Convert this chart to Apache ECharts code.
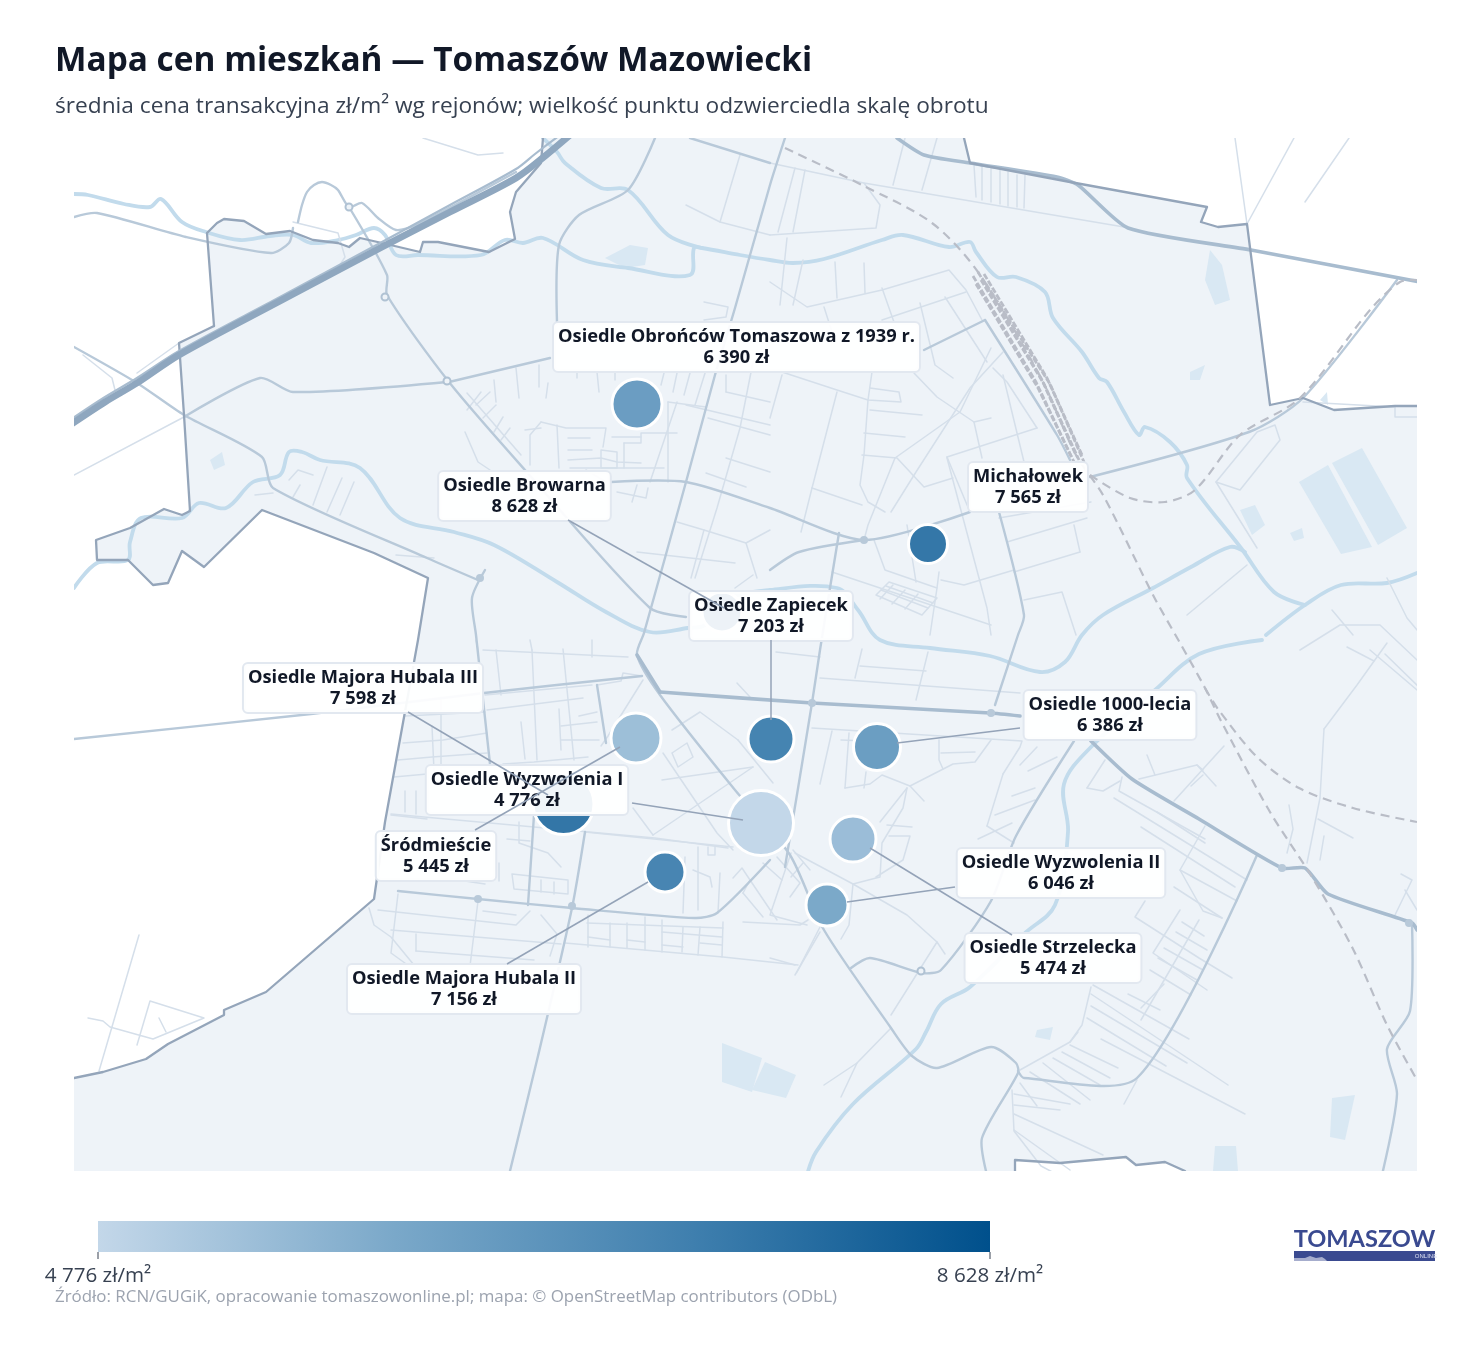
<!DOCTYPE html>
<html><head><meta charset="utf-8">
<style>html,body{margin:0;padding:0;background:#fff}#c{width:1481px;height:1352px}</style>
<script src="https://cdn.jsdelivr.net/npm/echarts@6/dist/echarts.min.js"></script>
</head><body><div id="c"></div>
<script>
const FONT='"Open Sans","Noto Sans",sans-serif';
const names=['Osiedle Obrońców Tomaszowa z 1939 r.','Osiedle Browarna','Michałowek','Osiedle Zapiecek','Osiedle Majora Hubala III','Osiedle Wyzwolenia I','Śródmieście','Osiedle Majora Hubala II','Osiedle 1000-lecia','Osiedle Wyzwolenia II','Osiedle Strzelecka'];
const prices=[6390,8628,7565,7203,7598,4776,5445,7156,6386,6046,5474];
const pointX=[637,722,928,771,563.5,761,636,665,877,827,853];
const pointY=[404,612,544,739,804,823,738,872,747,905,839];
const pointSize=[50,40,39,46,61,65,50,40,47,42,46];
const labelX=[736.5,524.5,1028,771,363,527,436,464,1110,1061,1053];
const labelY=[347,496,487,616,688,790,856,989,715,873,958];
const leaders=[[568,520,724,608],[771,640,771,720],[408,712,548,795],[632,803,743,820],[475,830,620,747],[507,964,648,882],[1020,728,897,743],[955,887,847,902],[1012,935,870,848]];
const colorStops=['#c3d7e9','#7aa8c9','#3f7fae','#00508c'];
const land=[207,233,217,223,224,219,244,221,266,234,290,231,313,240,338,243,349,247,360,238,382,243,420,252,423,242,438,242,489,252,515,239,510,212,516,192,541,163,543,138,964,138,970,163,1070,182,1207,207,1201,222,1218,227,1247,224,1270,405,1303,398,1334,410,1395,406,1417,406,1417,1171,1185,1171,1165,1162,1136,1165,1126,1157,1060,1163,1015,1160,1015,1171,74,1171,74,1078,103,1072,146,1059,168,1044,224,1015,224,1010,266,992,374,899,385,822,418,640,428,578,374,553,262,510,204,567,182,551,168,583,153,585,128,560,97,560,96,540,130,528,164,509,182,515,190,511,184,415,179,343,214,326];
const boundary=[[214,326,207,233,217,223,224,219,244,221,266,234,290,231,313,240,338,243,349,247,360,238,382,243,420,252,423,242,438,242,489,252,515,239,510,212,516,192,541,163,543,138],[964,138,970,163,1070,182,1207,207,1201,222,1218,227,1247,224,1270,405,1303,398,1334,410,1395,406,1417,406],[1015,1171,1015,1160,1060,1163,1126,1157,1136,1165,1165,1162,1185,1171],[74,1078,103,1072,146,1059,168,1044,224,1015,224,1010,266,992,374,899,385,822,418,640,428,578,374,553,262,510,204,567,182,551,168,583,153,585,128,560,97,560,96,540,130,528,164,509,182,515,190,511,184,415,179,343,214,326]];
const water=[[1299,482,1328,465,1372,547,1341,554],[1332,463,1362,448,1407,528,1378,545],[722,1043,762,1058,752,1092,722,1082],[765,1062,796,1075,786,1098,752,1090],[605,258,630,245,648,248,645,265,625,268],[1332,1098,1355,1095,1345,1140,1330,1137],[1215,1146,1236,1146,1238,1171,1213,1171],[1037,1030,1053,1027,1050,1040,1035,1037],[1210,250,1222,265,1230,300,1215,305,1205,280],[705,600,735,595,740,625,715,630],[1240,510,1255,505,1265,525,1252,535],[1190,372,1205,365,1200,380,1190,380],[1290,533,1302,528,1304,538,1294,541],[210,460,222,452,225,465,214,470],[1320,400,1327,392,1328,405]];
const rivers=[
[74,194,88,195,124,204,150,207,161,199,182,222,206,232,240,240,270,236,293,235,311,243,338,240,356,235,374,228,385,235,396,255,418,255,481,255,505,240,523,243,543,238,583,260,628,268,690,275,694,248,702,248,740,255,770,260,793,263,824,259,882,240,903,235,949,247,970,242,976,252,997,277,1016,277,1045,292,1053,318,1082,352,1099,378,1107,382,1124,412,1139,435,1145,427,1170,442,1187,465,1187,478,1241,548,1274,592,1305,605],
[543,138,557,152,565,163,601,188,628,190,668,235,702,248],
[74,588,97,563,128,560,130,542,141,518,182,518,199,503,226,508,253,482,280,475,289,452,302,452,320,460,360,468,400,518,454,532,494,545,557,582,606,612,650,632,688,628,705,625,725,600,770,590,837,588,858,610,880,640,930,648,990,656,1040,672,1065,662,1082,635,1103,615,1153,588,1191,567,1230,547,1245,552],
[1266,635,1305,605,1341,585,1387,583,1417,573],
[1262,640,1199,654,1155,690,1091,747,1064,784,1068,832,1055,905,1024,934,970,987,941,1004,926,1032,916,1049,853,1104,816,1152,807,1175]];
const motorway=[[70,425,105,402,137,383,179,355,280,301,382,247,450,212,516,178,545,156,570,135]];
const motorwayLane=[[70,420,105,397,137,378,179,351,280,297,382,242,450,205,516,169,535,154,560,135]];
const majorRoads=[
[660,692,812,703,990,713,1020,716],
[897,138,924,155,970,163,1057,177,1078,185,1128,228,1251,250,1420,282],
[637,655,660,692],
[1091,741,1132,779,1199,819,1282,868,1305,868,1328,894,1412,923,1417,930]];
const roads=[
[785,138,770,185,735,308,715,375,686,482,644,633,637,655,660,695,735,790,790,855,824,930,891,1028,912,1056,937,1068,991,1047,1016,1063,1018,1073,982,1138,987,1175],
[74,739,311,714,484,693,642,676],
[839,533,830,588,820,650,812,703,785,867],
[585,832,572,908,538,1056,509,1175],
[398,891,478,899,572,908,695,918,717,913,770,860],
[349,207,387,275,387,295,449,382,525,470,650,608,686,617],
[449,382,550,358],[924,350,985,320],
[184,417,260,378,293,392,447,382],
[74,347,137,383,184,415,262,457,273,488,427,558,478,580],
[485,570,472,598,476,635,490,764],
[611,482,686,482,770,508,864,540,970,512],
[1090,477,1249,432,1303,398,1397,280],
[864,540,799,552,770,570],
[985,320,1057,435,1070,460],
[999,512,1024,615,1018,635,995,705],
[1074,741,1016,836,991,901,941,970,922,973,870,958,851,968],
[1257,855,1137,1078,1024,1078,1018,1071],
[1412,923,1410,1011,1387,1049,1397,1094,1382,1175],
[557,322,559,245,579,215,628,190,655,138],
[298,222,302,205,307,192,314,185,322,182,331,185,338,190,349,207,362,203,378,218,396,230,416,225,516,172],
[293,228,289,243,271,253,186,237,97,213,74,217],
[597,685,606,743],[534,815,528,905],[690,138,770,163]];
const streets=[
[74,475,184,417],[423,138,478,155,503,153],[293,222,338,233,345,257,338,268],[83,355,112,378,115,390],[137,373,179,343],
[770,163,864,183,1124,227],[795,168,778,232],[805,170,793,232],[770,235,876,228,880,205,864,183],[787,238,780,305],[803,260,793,305],[835,262,837,298],[864,263,865,293],[905,138,893,185],[937,138,922,190],
[974,165,976,197],[982,167,982,200],[991,168,991,202],[1000,170,1000,204],[1008,172,1008,206],[1017,175,1017,207],[1025,175,1024,208],
[770,282,807,307,882,290,949,270,966,290,982,320],[824,307,832,332],[882,288,895,325],[882,320,966,292],[920,303,935,365,953,378],[945,297,978,348,987,362],
[782,372,837,390,868,400,901,402,899,392,870,388],[872,372,868,400,864,455,860,485,868,502,885,512],[870,410,922,415],[864,433,905,437],[862,455,897,458,924,487,953,478],
[914,373,937,397,974,422,982,458],[991,348,960,412,895,458,868,525,864,540],[1003,352,970,388,916,472,891,512],[993,368,1007,382,1037,428],[947,457,1037,428],[947,457,970,512],[974,422,991,418],[1003,375,1024,462],
[999,518,1091,502],[1007,542,1087,518],[1014,572,1080,552],[1074,525,1080,552],[941,580,964,585,1014,570],[947,458,987,608,991,635],[874,540,885,570,937,588,930,635],[907,525,916,582],[832,572,991,625],[939,572,937,588],[1024,600,1062,592,1076,635],
[876,595,889,582,937,598,922,615,876,595],[881,590,928,608],[886,586,933,603],[893,585,880,599],[905,590,892,604],[918,594,905,609],
[812,488,862,505],[801,532,812,488],[837,392,812,488],[782,375,770,418],
[740,155,720,222],[686,205,720,222,770,235],[704,302,728,307,726,317,704,320],[753,362,740,428,717,508,695,578],[726,392,726,375],[726,392,770,402],[708,418,770,435],[726,458,770,472],[706,473,746,487],[677,522,704,530,746,543,770,530],[704,530,691,578],[746,543,757,578],[637,552,735,563],[735,588,753,575],
[677,402,650,482],[706,407,668,402],[668,402,668,482],
[541,422,530,435,530,465],[541,422,566,428,606,428,603,447],[557,425,559,468],[568,438,590,438],[568,450,592,450],[568,460,601,458,617,462,641,463],[601,450,617,452,617,468,601,468,601,450],[624,443,641,443,641,433,677,433],[624,443,624,468],[570,468,664,468],[612,437,641,437],[525,430,541,428],[586,470,606,482],[637,485,632,502],[617,492,646,498,648,488],
[465,432,478,462,490,470],[467,393,521,455],[481,392,467,410],[490,392,476,405],[496,405,483,418],[503,417,494,432],[510,428,501,440],
[494,380,496,402],[516,368,519,398],[539,365,539,387],[548,383,546,398],[577,372,577,378],[597,372,599,392],[615,373,615,380],[664,373,661,385],[677,373,673,392],[690,373,684,395],[706,370,695,405],[686,405,770,425],
[289,480,298,470,313,475],[300,485,293,497],[327,467,313,505],[342,478,327,512],[354,482,340,515],[255,495,273,493],[396,555,434,558],
[405,716,485,712],[403,743,443,740,487,733],[398,760,432,757,487,753],[394,777,427,774],[391,815,427,819],[405,791,405,812],[416,791,416,814],[432,726,434,771],[441,697,441,770],
[476,640,478,650],[483,650,628,657],[496,650,501,695],[532,650,537,760],[563,649,574,760],[559,709,561,750],[521,722,525,759],[485,695,592,685],[487,710,583,698],[503,764,534,762,588,757],[601,746,608,736,643,680],[579,716,597,712],[561,726,597,722],[561,740,599,740],[597,685,621,681,623,673,642,676],[592,640,592,657],[530,640,532,650],
[391,814,655,838,728,848],[519,822,519,843,548,853,561,867],[507,839,530,841],[499,863,499,881],[512,874,568,880,568,894,514,889,512,874],[541,880,541,892],[554,882,554,894],[458,880,485,884],
[369,908,374,925,391,937,414,965],[378,910,516,925,530,911],[398,894,391,953,409,966],[391,930,561,944],[416,951,534,960],[416,934,416,951],[478,901,470,966],[541,915,557,934,550,956],[483,911,516,915],
[565,943,723,957,798,965],[587,923,723,928],[588,937,610,940],[588,915,588,947],[610,923,610,947],[627,923,627,948],[645,917,645,950],[662,920,662,952],[683,927,682,952],[700,927,698,955],[723,922,722,957],[662,932,722,937],[627,940,645,942],[662,945,683,947],[700,943,722,945],[743,922,800,925,808,920],
[663,753,717,833,733,850],[662,780,753,767],[653,835,753,767],[633,808,653,835],[585,832,733,847],[738,740,700,712,672,730],[672,753,687,743,693,757,678,767,672,753],[738,740,773,783],[737,683,750,697],
[693,870,710,877,712,887],[685,857,683,913],[698,847,698,910],[720,873,718,913],[708,847,708,855,715,855,715,847],[733,878,742,868,750,880,743,893],[743,893,763,917],[750,880,777,920],[763,863,782,880],[777,857,800,883,790,897],[793,850,810,870],[797,972,820,927],
[776,652,820,657],[820,678,1020,693],[860,666,926,671],[862,649,855,678],[928,652,916,700],[812,728,1022,741,1020,747,1003,774],[832,731,820,784],[841,740,866,741],[845,788,849,733],[845,788,870,784,882,775,910,786,953,764,975,762,991,740],[939,740,939,760,943,769],[941,753,975,752],[924,801,910,786],[866,772,864,788],
[907,788,903,808,882,843,880,877,853,884,795,853],[907,788,880,822],[887,825,912,827],[889,836,910,836,903,860,876,877],[791,853,770,915,807,925],[791,877,803,863],[853,884,849,925,841,939],[853,884,907,915,937,942,945,954],[937,942,891,1015],[770,958,795,965],[820,932,795,975],[857,1063,841,1097],[824,1085,857,1063,891,1028],
[1037,747,1020,765],[1057,757,1028,771],[1012,796,1035,788],[995,815,1035,800],[978,839,1012,823],[987,826,1014,843],[1003,774,987,826],[1087,788,1105,760],[1087,788,1103,791,1120,781],[1139,779,1197,765,1203,770],[1147,755,1155,775],[1174,801,1224,746],[1197,765,1216,786],[1191,786,1203,775],
[1114,798,1247,880],[1141,827,1235,887],[1205,826,1180,870,1203,911,1222,918],[1157,812,1205,843],[1122,777,1119,791,1205,839],[1180,870,1237,901],[1174,887,1222,918],[1145,901,1135,917,1199,958,1232,978],[1180,910,1153,953,1207,990],[1199,920,1141,1020],[1182,922,1204,936],[1176,932,1207,950],[1164,948,1203,970],[1158,958,1197,980],[1150,970,1191,995],
[1093,985,1189,1039],[1091,994,1228,1085],[1091,1006,1187,1063],[1087,1018,1166,1066],[1101,1039,1245,1114],[1137,1080,1124,1104],[1078,1032,1070,1042,1020,1070],[1164,984,1141,1008],[1128,994,1160,1010],[1091,987,1082,1025,1070,1042],
[1070,1045,1118,1068],[1062,1052,1110,1078],[1053,1058,1100,1085],[1043,1063,1090,1100],[1030,1072,1080,1104],[1020,1083,1037,1106],[1014,1094,1070,1104],[1014,1105,1060,1110],[1014,1114,1103,1155],[1014,1130,1070,1170],[1012,1090,1014,1131,1041,1166,1058,1175],
[1324,729,1320,798,1307,863],[1324,729,1357,685,1387,643],[1385,654,1420,688],[1347,647,1374,661],[1289,805,1293,829,1287,853],[1318,819,1353,838],[1324,836,1320,860],[1401,874,1412,880,1395,915],[1405,890,1417,910],
[1187,615,1247,565],[1216,482,1257,432,1275,425,1280,440,1240,490,1216,482],[1257,548,1216,482],[1303,402,1395,407],[1395,407,1395,417,1417,417],[1332,610,1353,635],[1387,578,1407,618,1417,630],[1300,650,1340,625,1380,625,1417,660],[1370,650,1417,690],
[139,935,99,1071],[88,1018,103,1021,110,1027,153,1039,204,1018,150,1001,137,1045],[159,1018,166,1032],[1235,138,1247,224],[1294,138,1247,224],[1349,138,1305,202]];
const rail=[[785,148,862,185,932,223,978,272,1041,378,1076,455,1103,495,1153,595,1180,643,1205,688,1220,719,1270,812,1312,877,1353,949,1387,1025,1417,1080],[1090,475,1130,498,1165,502,1195,490,1240,435,1300,398,1370,310,1400,282,1417,280],[1205,688,1218,709,1257,757,1299,788,1353,808,1417,822]];
const railYard=[[978,272,1041,378,1076,455],[984,274,1047,378,1082,455],[973,276,1036,382,1072,458],[981,280,1044,384,1079,460],[976,284,1038,388,1074,462],[986,284,1050,384,1084,462]];
const ringRoundabouts=[[349,207],[385,297],[921,971],[447,381]];
const solidJunctions=[[812,703],[991,713],[572,906],[1409,923],[478,899],[864,540],[1282,868],[480,578]];

const pairs=a=>{const r=[];for(let i=0;i<a.length;i+=2)r.push([a[i],a[i+1]]);return r;};
const lineSeries=(list,color,width,z,dash,smooth)=>({type:'custom',coordinateSystem:'cartesian2d',silent:true,animation:false,z,clip:true,
  data:list.map((_,i)=>[i]),
  renderItem:(p,api)=>({type:'polyline',shape:{points:pairs(list[p.dataIndex]).map(q=>api.coord(q)),smooth:smooth||0},
    style:{fill:null,stroke:color,lineWidth:width,lineCap:dash?'butt':'round',lineJoin:'round',lineDash:dash||null}})});
const polySeries=(list,color,z)=>({type:'custom',coordinateSystem:'cartesian2d',silent:true,animation:false,z,clip:true,
  data:list.map((_,i)=>[i]),renderItem:(p,api)=>({type:'polygon',shape:{points:pairs(list[p.dataIndex]).map(q=>api.coord(q))},style:{fill:color}})});

const bubbleIndex=11;
const series=[
 polySeries([land],'#eef3f8',1),
 polySeries(water,'#d9e8f3',2),
 lineSeries(rivers,'#c2dbec',3.8,3,null,0.35),
 lineSeries(streets,'#d5dfea',1.5,4),
 lineSeries(roads,'#b8c9d9',2.4,5,null,0.25),
 lineSeries(majorRoads,'#a8bccf',3.6,5,null,0.2),
 lineSeries(boundary,'#94a5ba',2.3,6),
 lineSeries(motorwayLane,'#a8bccf',2.2,7,null,0.3),
 lineSeries(motorway,'#8fa7bf',6.8,7,null,0.3),
 lineSeries(rail,'#b9bdc7',2.2,8,[9,6],0.3),
 lineSeries(railYard,'#b9bdc7',2.8,8,[6,2]),
 {type:'scatter',name:'ceny',z:10,animation:false,silent:true,
  data:names.map((n,i)=>[pointX[i],pointY[i],prices[i],pointSize[i]]),
  symbolSize:v=>v[3],itemStyle:{opacity:1,borderColor:'#fff',borderWidth:3}},
 {type:'scatter',z:11,animation:false,silent:true,symbolSize:1,itemStyle:{color:'transparent',opacity:1},
  data:names.map((n,i)=>({value:[labelX[i],labelY[i]],name:n})),
  label:{show:true,position:'inside',fontFamily:FONT,fontSize:18.3,fontWeight:700,lineHeight:21,color:'#111827',align:'center',verticalAlign:'middle',
    backgroundColor:'rgba(255,255,255,0.93)',borderColor:'#e2e8f0',borderWidth:2,borderRadius:4,padding:[3,4,3,4],
    formatter:p=>p.name+'\n'+String(prices[p.dataIndex]).replace(/(\d)(\d{3})$/,'$1 $2')+' zł'}},
 lineSeries(leaders,'#94a3b8',1.5,12,[1000,0]),
 {type:'scatter',z:9,animation:false,silent:true,symbolSize:7,itemStyle:{opacity:1,color:'#eef3f8',borderColor:'#b0c2d3',borderWidth:2},data:ringRoundabouts},
 {type:'scatter',z:9,animation:false,silent:true,symbolSize:8,itemStyle:{opacity:1,color:'#b8c9d9'},data:solidJunctions}
];
const chart=echarts.init(document.getElementById('c'),null,{renderer:'canvas'});
chart.setOption({
 backgroundColor:'#ffffff',animation:false,
 grid:{left:74,top:138,width:1343,height:1033,containLabel:false},
 xAxis:{type:'value',min:74,max:1417,show:false,splitLine:{show:false}},
 yAxis:{type:'value',min:138,max:1171,inverse:true,show:false,splitLine:{show:false}},
 title:[
  {text:'Mapa cen mieszkań — Tomaszów Mazowiecki',left:55,top:45,padding:0,textStyle:{fontFamily:FONT,fontSize:33.4,fontWeight:700,color:'#111827'}},
  {text:'średnia cena transakcyjna zł/m² wg rejonów; wielkość punktu odzwierciedla skalę obrotu',left:55,top:95,padding:0,textStyle:{fontFamily:FONT,fontSize:22.7,fontWeight:400,color:'#374151'}}],
 visualMap:{type:'continuous',show:false,seriesIndex:bubbleIndex,dimension:2,min:4776,max:8628,inRange:{color:colorStops}},
 series,
 graphic:[
  {type:'rect',shape:{x:98,y:1221,width:892,height:31},style:{fill:new echarts.graphic.LinearGradient(0,0,1,0,colorStops.map((c,i)=>({offset:i/(colorStops.length-1),color:c})))}},
  {type:'line',shape:{x1:98,y1:1252,x2:98,y2:1259},style:{stroke:'#374151',lineWidth:1}},
  {type:'line',shape:{x1:990,y1:1252,x2:990,y2:1259},style:{stroke:'#374151',lineWidth:1}},
  {type:'text',x:98,y:1276,style:{text:'4 776 zł/m²',x:0,y:0,align:'center',verticalAlign:'middle',font:'20.6px '+FONT,fill:'#374151'}},
  {type:'text',x:990,y:1276,style:{text:'8 628 zł/m²',x:0,y:0,align:'center',verticalAlign:'middle',font:'20.6px '+FONT,fill:'#374151'}},
  {type:'text',x:55,y:1297.5,style:{text:'Źródło: RCN/GUGiK, opracowanie tomaszowonline.pl; mapa: © OpenStreetMap contributors (ODbL)',x:0,y:0,align:'left',verticalAlign:'middle',font:'16.9px '+FONT,fill:'#9ca3af'}},
  {type:'text',x:1364.5,y:1239,style:{text:'TOMASZOW',x:0,y:0,align:'center',verticalAlign:'middle',font:'700 23.6px Lato, sans-serif',fill:'#3a4a90'}},
  {type:'rect',shape:{x:1294,y:1251,width:141,height:10},style:{fill:'#3a4a90'}},
  {type:'polygon',shape:{points:[[1294,1261],[1294,1258],[1305,1258],[1310,1256],[1316,1258],[1322,1257],[1325,1259],[1327,1261]]},style:{fill:'#ffffff',opacity:.55}},
  {type:'text',x:1426,y:1256.5,style:{text:'ONLINE',x:0,y:0,align:'center',verticalAlign:'middle',font:'6px "Liberation Sans Narrow","Liberation Sans",sans-serif',fill:'#dfe3f3'}}
 ]
});
</script></body></html>
